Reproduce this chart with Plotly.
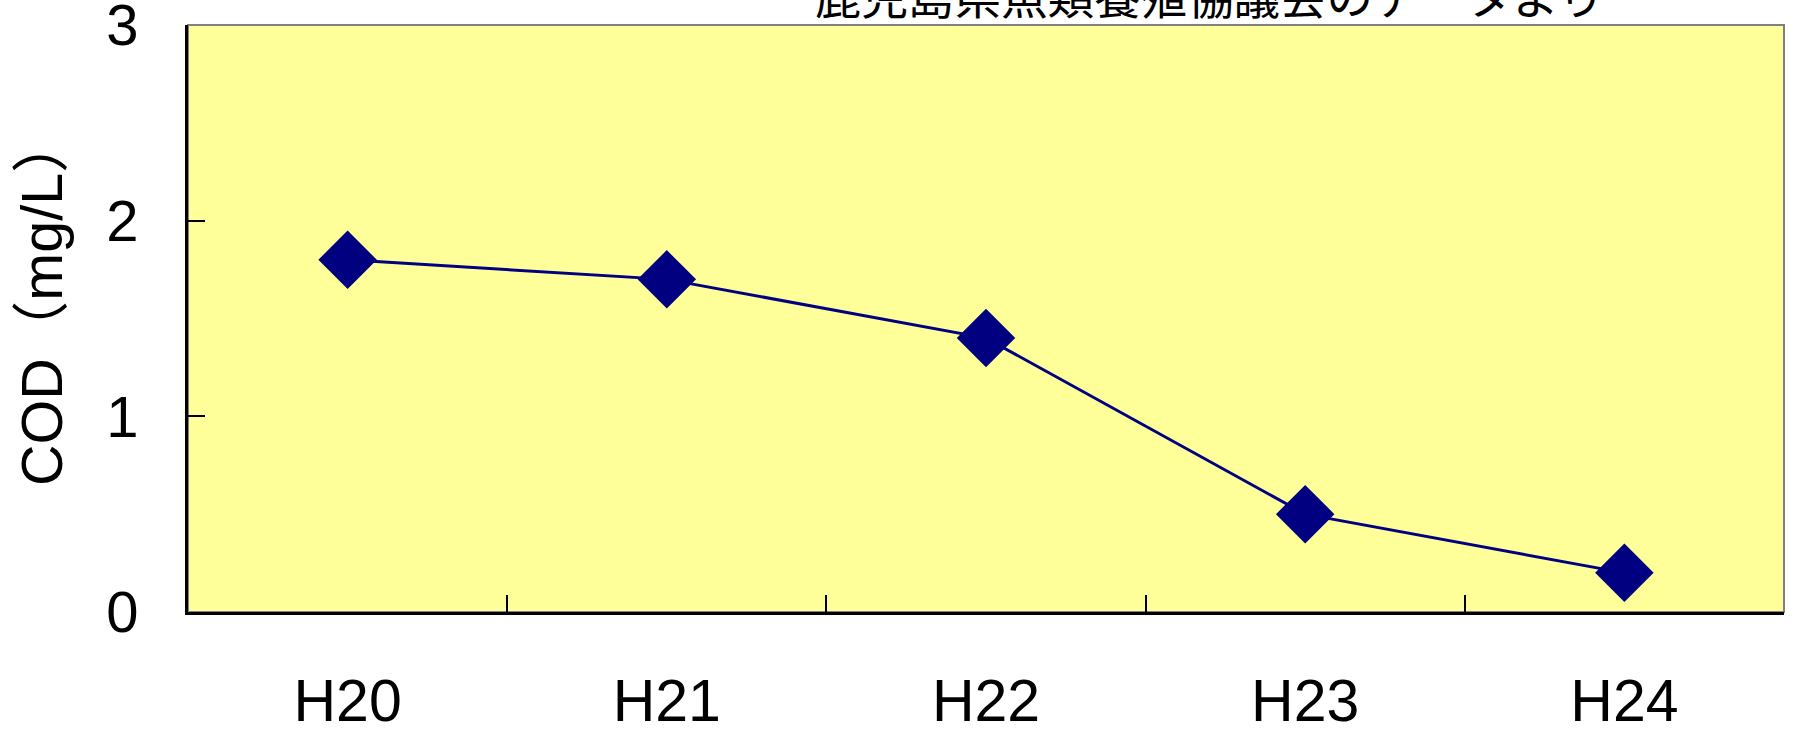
import plotly.graph_objects as go

categories = ["H20", "H21", "H22", "H23", "H24"]
cod_values = [1.8, 1.7, 1.4, 0.5, 0.2]
y_ticks = [0, 1, 2, 3]
y_title = "COD（mg/L）"
source_note = "鹿児島県魚類養殖協議会のデータより"

W, H = 1797, 729
L, R, T, B = 188, 13, 25, 117
plot_w = W - L - R
plot_h = H - T - B

fig = go.Figure()
fig.add_trace(go.Scatter(
    x=categories, y=cod_values, mode="lines+markers",
    line=dict(color="#000080", width=3),
    marker=dict(symbol="diamond", size=45, color="#000080"),
    showlegend=False, cliponaxis=False,
))

fig.add_shape(type="rect", xref="paper", yref="paper", x0=0, x1=1, y0=0, y1=1,
              line=dict(color="#808080", width=2), layer="below")

fig.add_annotation(text=source_note, xref="paper", yref="paper",
                   x=(1210 - L) / plot_w, y=1 - 4.5 / plot_h,
                   xanchor="center", yanchor="bottom", showarrow=False,
                   font=dict(family="Noto Sans CJK JP", size=46.5, color="black"))

fig.add_annotation(text=y_title, xref="paper", yref="paper", textangle=-90,
                   x=(42 - L) / plot_w, y=(612 - 301) / plot_h,
                   xanchor="center", yanchor="middle", showarrow=False,
                   font=dict(family="Liberation Sans, Noto Sans CJK JP", size=57.5, color="black"))

fig.update_layout(
    width=W, height=H,
    margin=dict(l=L, r=R, t=T, b=B, pad=0, autoexpand=False),
    paper_bgcolor="white", plot_bgcolor="#FFFF99",
    font=dict(family="Liberation Sans, Noto Sans CJK JP", color="black"),
)
fig.update_xaxes(
    type="category", tickson="boundaries", ticks="inside", ticklen=17,
    tickwidth=2, tickcolor="black", showline=True, linecolor="black",
    linewidth=3, showgrid=False, zeroline=False, automargin=False,
    range=[-0.5, 4.5], ticklabelstandoff=35, ticklabeloverflow="allow",
    tickfont=dict(family="Liberation Sans", size=59),
)
fig.update_yaxes(
    range=[0, 3], tickvals=y_ticks, ticks="inside", ticklen=17,
    tickwidth=2, tickcolor="black", showline=True, linecolor="black",
    linewidth=3, showgrid=False, zeroline=False, automargin=False,
    ticklabelstandoff=35, ticklabeloverflow="allow",
    tickfont=dict(family="Liberation Sans", size=58),
)

fig.write_html(
    "out.html",
    config={"displayModeBar": False},
    post_script="document.body.style.margin='0';document.body.style.overflow='hidden';",
)
